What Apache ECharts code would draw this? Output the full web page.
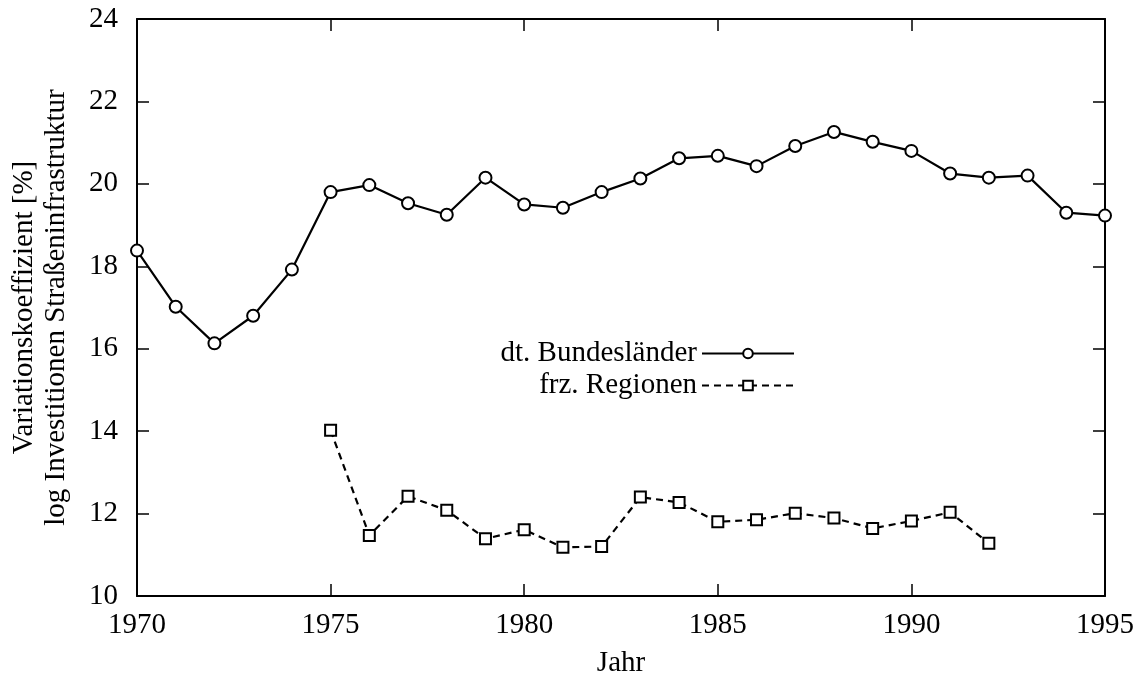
<!DOCTYPE html>
<html>
<head>
<meta charset="utf-8">
<script src="https://cdn.jsdelivr.net/npm/echarts@6/dist/echarts.min.js"></script>
<style>
  html, body { margin: 0; padding: 0; background: #fff; }
  #canvas { width: 1140px; height: 683px; }
</style>
</head>
<body>
<div id="canvas"></div>
<script>
// Jahre und Werte (Variationskoeffizient in %)
var yearsDe = [1970, 1971, 1972, 1973, 1974, 1975, 1976, 1977, 1978, 1979, 1980, 1981, 1982,
               1983, 1984, 1985, 1986, 1987, 1988, 1989, 1990, 1991, 1992, 1993, 1994, 1995];
var valuesDe = [18.38, 17.02, 16.13, 16.80, 17.92, 19.80, 19.97, 19.53, 19.25, 20.15, 19.50, 19.42, 19.80,
                20.13, 20.62, 20.68, 20.43, 20.92, 21.26, 21.02, 20.80, 20.25, 20.15, 20.20, 19.30, 19.23];
var yearsFr = [1975, 1976, 1977, 1978, 1979, 1980, 1981, 1982, 1983, 1984,
               1985, 1986, 1987, 1988, 1989, 1990, 1991, 1992];
var valuesFr = [14.02, 11.47, 12.42, 12.08, 11.39, 11.61, 11.18, 11.20, 12.40, 12.27,
                11.80, 11.85, 12.01, 11.89, 11.64, 11.82, 12.03, 11.28];
var seriesNames = ['dt. Bundesländer', 'frz. Regionen'];
var xTicks = { min: 1970, max: 1995, interval: 5 };
var yTicks = { min: 10, max: 24, interval: 2 };

function pairs(xs, ys) {
  var out = [];
  for (var i = 0; i < xs.length; i++) out.push([xs[i], ys[i]]);
  return out;
}

var font = 'Liberation Serif';
var fs = 29;
var lineCol = '#000';

var myChart = echarts.init(document.getElementById('canvas'));
var option = {
  animation: false,
  backgroundColor: '#fff',
  textStyle: { fontFamily: font, color: lineCol },
  grid: { left: 137, right: 35, top: 19, bottom: 86 },
  legend: {
    data: seriesNames,
    orient: 'vertical',
    align: 'right',
    right: 340,
    top: 334,
    itemWidth: 92,
    itemHeight: 12,
    itemGap: 3,
    textStyle: { fontFamily: font, fontSize: fs, color: lineCol }
  },
  xAxis: [
    {
      type: 'value',
      min: xTicks.min, max: xTicks.max, interval: xTicks.interval,
      name: 'Jahr',
      nameLocation: 'middle',
      nameGap: 53,
      nameTextStyle: { fontFamily: font, fontSize: fs, color: lineCol },
      axisLine: { onZero: false, lineStyle: { color: lineCol, width: 2 } },
      axisTick: { inside: true, length: 12, lineStyle: { color: lineCol, width: 1.5 } },
      axisLabel: { margin: 15, fontFamily: font, fontSize: fs, color: lineCol,
                   formatter: function (v) { return String(v); } },
      splitLine: { show: false }
    },
    {
      type: 'value', position: 'top',
      min: xTicks.min, max: xTicks.max, interval: xTicks.interval,
      axisLine: { onZero: false, lineStyle: { color: lineCol, width: 2 } },
      axisTick: { inside: true, length: 12, lineStyle: { color: lineCol, width: 1.5 } },
      axisLabel: { show: false },
      splitLine: { show: false }
    }
  ],
  yAxis: [
    {
      type: 'value',
      min: yTicks.min, max: yTicks.max, interval: yTicks.interval,
      name: 'Variationskoeffizient [%]\nlog Investitionen Straßeninfrastruktur',
      nameLocation: 'middle',
      nameRotate: 90,
      nameGap: 65,
      nameTextStyle: { fontFamily: font, fontSize: fs, color: lineCol, lineHeight: 32 },
      axisLine: { onZero: false, lineStyle: { color: lineCol, width: 2 } },
      axisTick: { inside: true, length: 12, lineStyle: { color: lineCol, width: 1.5 } },
      axisLabel: { margin: 19, fontFamily: font, fontSize: fs, color: lineCol },
      splitLine: { show: false }
    },
    {
      type: 'value', position: 'right',
      min: yTicks.min, max: yTicks.max, interval: yTicks.interval,
      axisLine: { show: true, onZero: false, lineStyle: { color: lineCol, width: 2 } },
      axisTick: { show: true, inside: true, length: 12, lineStyle: { color: lineCol, width: 1.5 } },
      axisLabel: { show: false },
      splitLine: { show: false }
    }
  ],
  series: [
    {
      name: seriesNames[0],
      type: 'line',
      data: pairs(yearsDe, valuesDe),
      symbol: 'emptyCircle',
      symbolSize: 12,
      lineStyle: { color: lineCol, width: 2.2 },
      itemStyle: { color: lineCol, borderWidth: 2.2 }
    },
    {
      name: seriesNames[1],
      type: 'line',
      data: pairs(yearsFr, valuesFr),
      symbol: 'emptyRect',
      symbolSize: 11,
      lineStyle: { color: lineCol, width: 2.2, type: [7, 5] },
      itemStyle: { color: lineCol, borderWidth: 2.2 }
    }
  ]
};
myChart.setOption(option);
window.onresize = myChart.resize;
</script>
</body>
</html>
